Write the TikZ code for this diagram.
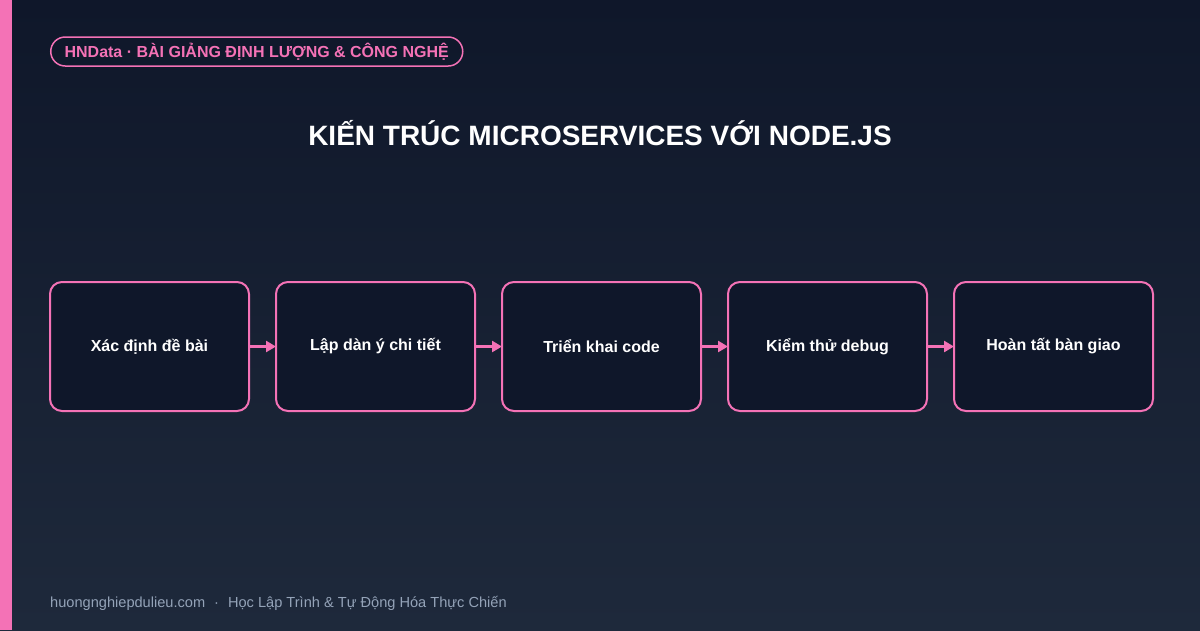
\documentclass[tikz,border=0pt]{standalone}
\usepackage{fontspec}
\setmainfont{Liberation Sans}
\usetikzlibrary{arrows.meta}
\definecolor{bgtop}{HTML}{0F172A}
\definecolor{bgbot}{HTML}{1E293B}
\definecolor{pink}{HTML}{F472B6}
\definecolor{boxfill}{HTML}{0F172A}
\definecolor{foot}{HTML}{94A3B8}
\tikzset{
  stepbox/.style={draw=pink, line width=2pt, fill=boxfill, rounded corners=12pt,
    minimum width=199pt, minimum height=129pt, inner sep=0pt,
    font=\fontsize{16}{19}\selectfont\bfseries, text=white, anchor=north west},
  flow/.style={draw=pink, line width=3pt, -{Triangle[length=10pt,width=11pt]}, shorten >=-1pt},
}
\begin{document}
\begin{tikzpicture}[x=1pt,y=-1pt]
\useasboundingbox (0,0) rectangle (1200,630);
\shade[top color=bgtop, bottom color=bgbot] (0,0) rectangle (1200,630);
\fill[pink] (0,0) rectangle (12,630);
\node[draw=pink, line width=1.5pt, rounded corners=14.5pt, minimum height=29pt, minimum width=412pt,
  inner sep=0pt, text=pink, font=\fontsize{16}{18}\selectfont\bfseries, anchor=west] (badge) at (50,51.5)
  {HNData · BÀI GIẢNG ĐỊNH LƯỢNG \& CÔNG NGHỆ};
\node[text=white, font=\fontsize{28}{32}\selectfont\bfseries] (title) at (600,133)
  {KIẾN TRÚC MICROSERVICES VỚI NODE.JS};
\node[stepbox] (s1) at (49,281) {Xác định đề bài};
\node[stepbox] (s2) at (275,281) {Lập dàn ý chi tiết};
\node[stepbox] (s3) at (501,281) {Triển khai code};
\node[stepbox] (s4) at (727,281) {Kiểm thử debug};
\node[stepbox] (s5) at (953,281) {Hoàn tất bàn giao};
\draw[flow] (s1.east) -- (s2.west);
\draw[flow] (s2.east) -- (s3.west);
\draw[flow] (s3.east) -- (s4.west);
\draw[flow] (s4.east) -- (s5.west);
\node[text=foot, font=\fontsize{14.6}{17}\selectfont, anchor=west, inner sep=0pt] (footer) at (50,603)
  {huongnghiepdulieu.com\hspace{9pt}·\hspace{9pt}Học Lập Trình \& Tự Động Hóa Thực Chiến};
\end{tikzpicture}
\end{document}
